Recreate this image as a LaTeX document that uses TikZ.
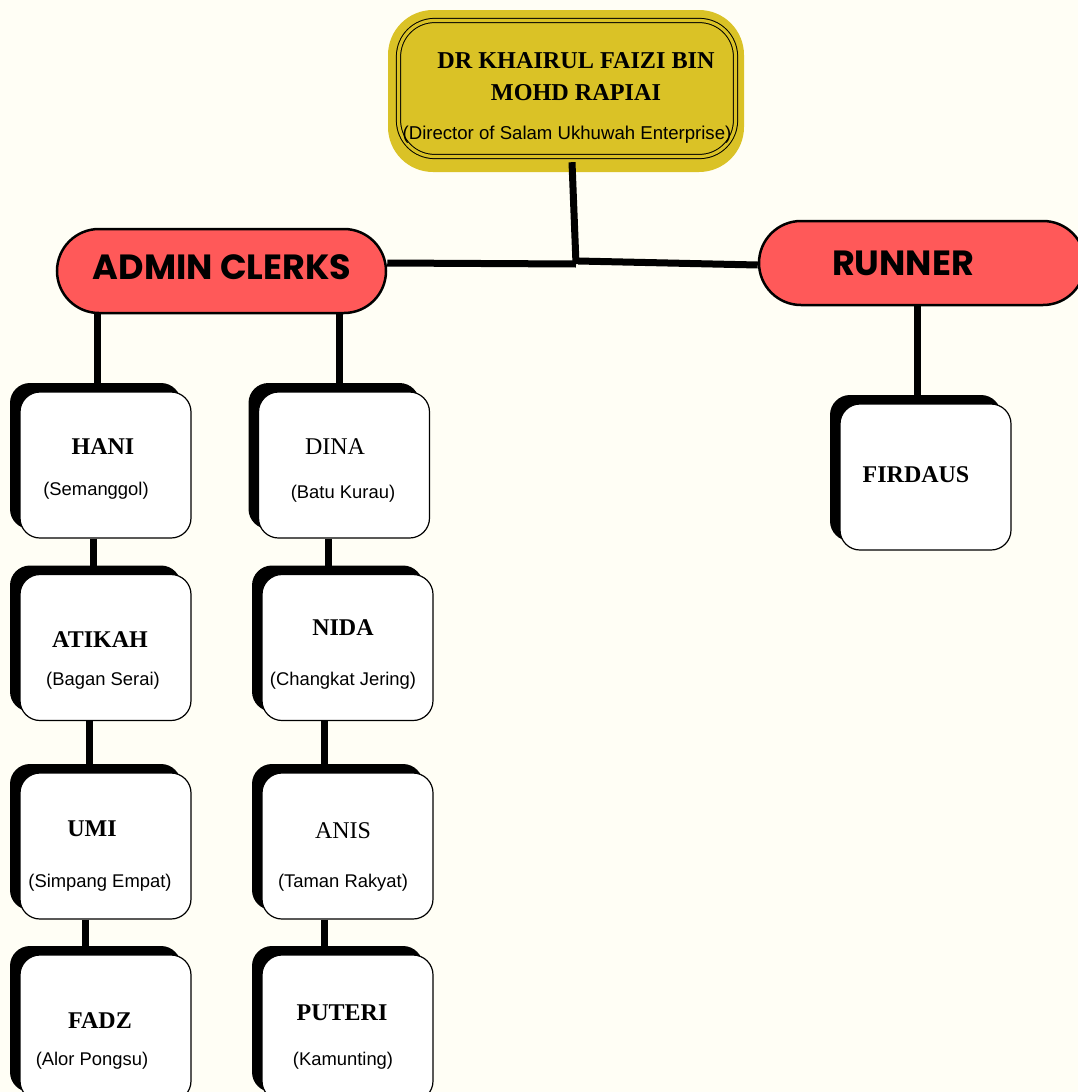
\documentclass[tikz,border=0pt]{standalone}
\usepackage{fontspec}
\setmainfont{Liberation Serif}
\setsansfont{Liberation Sans}
\newfontfamily\popfont{Poppins}
\usetikzlibrary{shadows}
\definecolor{bgcol}{RGB}{255,254,245}
\definecolor{goldcol}{RGB}{218,194,38}
\definecolor{redcol}{RGB}{255,89,89}
\tikzset{
  conn/.style={line width=7pt, black},
  card/.style={rectangle, rounded corners=20pt, minimum width=171pt, minimum height=146pt,
    fill=white, draw=black, line width=1.2pt,
    general shadow={fill=black, shadow xshift=-10pt, shadow yshift=9pt}},
  pill/.style={rectangle, rounded corners=42pt, minimum height=84pt, fill=redcol, draw=black,
    line width=2.5pt, inner sep=0pt},
  pilltext/.style={font=\popfont\bfseries\fontsize{35}{37}\selectfont, inner sep=0pt},
  nm/.style={font=\bfseries\fontsize{24}{26}\selectfont, inner sep=0pt},
  nmr/.style={font=\fontsize{24}{26}\selectfont, inner sep=0pt},
  loc/.style={font=\sffamily\fontsize{18.4}{20}\selectfont, inner sep=0pt},
}
\begin{document}
\begin{tikzpicture}[x=1pt,y=-1pt]
\fill[bgcol] (0,0) rectangle (1078,1092);
\useasboundingbox (0,0) rectangle (1078,1092);

% top box
\node[rectangle, rounded corners=45pt, fill=goldcol, minimum width=356pt, minimum height=162pt] (topouter) at (566,91) {};
\node[rectangle, rounded corners=36pt, draw=black, double=goldcol, double distance=3.2pt, line width=1pt,
  minimum width=337pt, minimum height=136pt] (topinner) at (567,88.5) {};
\node[font=\bfseries\fontsize{24.2}{26}\selectfont, inner sep=0pt] (t1) at (576,61) {DR KHAIRUL FAIZI BIN};
\node[font=\bfseries\fontsize{24.2}{26}\selectfont, inner sep=0pt] (t2) at (576,93) {MOHD RAPIAI};
\node[font=\sffamily\fontsize{18.6}{20}\selectfont, inner sep=0pt] (t3) at (567,135) {(Director of Salam Ukhuwah Enterprise)};

% pills
\node[pill, minimum width=329pt] (admin) at (221.5,271) {};
\node[pilltext] (admintext) at (222,267) {ADMIN CLERKS};
\node[pill, minimum width=326pt] (runner) at (922,263) {};
\node[pilltext] (runnertext) at (903,263) {RUNNER};

% cards
\node[card] (hani) at (105.5,465) {};
\node[card] (atikah) at (105.5,647.5) {};
\node[card] (umi) at (105.5,846) {};
\node[card] (fadz) at (105.5,1028) {};
\node[card] (dina) at (344,465) {};
\node[card] (nida) at (347.5,647.5) {};
\node[card] (anis) at (347.5,846) {};
\node[card] (puteri) at (347.5,1028) {};
\node[card] (firdaus) at (925.5,477) {};

% connectors
\coordinate (junc) at (576,264);
\coordinate (juncr) at (578,261);
\draw[conn] ([xshift=6pt,yshift=10pt]topouter.south) -- (junc);
\draw[conn] ([yshift=8pt]admin.east) -- (junc);
\draw[conn] (juncr) -- ([yshift=-2pt]runner.west);
\draw[conn] ([xshift=-8.5pt]hani.north) -- ([xshift=-8.5pt]hani.north |- admin.south);
\draw[conn] ([xshift=-5pt]dina.north) -- ([xshift=-5pt]dina.north |- admin.south);
\draw[conn] ([xshift=-8.5pt]firdaus.north) -- ([xshift=-8.5pt]firdaus.north |- runner.south);
\draw[conn] ([xshift=-12.5pt]hani.south) -- ([xshift=-12.5pt]atikah.north);
\draw[conn] ([xshift=-16.5pt]atikah.south) -- ([xshift=-16.5pt]umi.north);
\draw[conn] ([xshift=-20.5pt]umi.south) -- ([xshift=-20.5pt]fadz.north);
\draw[conn] ([xshift=-16pt]dina.south) -- ([xshift=-19.5pt]nida.north);
\draw[conn] ([xshift=-23.5pt]nida.south) -- ([xshift=-23.5pt]anis.north);
\draw[conn] ([xshift=-23.5pt]anis.south) -- ([xshift=-23.5pt]puteri.north);

% card texts
\node[nm] (haniname) at (103,447) {HANI};
\node[loc] (haniloc) at (96,491) {(Semanggol)};
\node[nm] (atikahname) at (100,640) {ATIKAH};
\node[loc] (atikahloc) at (103,681) {(Bagan Serai)};
\node[nm] (uminame) at (92,829) {UMI};
\node[loc] (umiloc) at (100,883) {(Simpang Empat)};
\node[nm] (fadzname) at (100,1021) {FADZ};
\node[loc] (fadzloc) at (92,1061) {(Alor Pongsu)};
\node[nmr] (dinaname) at (335,447) {DINA};
\node[loc] (dinaloc) at (343,494) {(Batu Kurau)};
\node[nm] (nidaname) at (343,628) {NIDA};
\node[loc] (nidaloc) at (343,681) {(Changkat Jering)};
\node[nmr] (anisname) at (343,831) {ANIS};
\node[loc] (anisloc) at (343,883) {(Taman Rakyat)};
\node[nm] (puteriname) at (342,1013) {PUTERI};
\node[loc] (puteriloc) at (343,1061) {(Kamunting)};
\node[nm] (firdausname) at (916,475) {FIRDAUS};
\end{tikzpicture}
\end{document}
